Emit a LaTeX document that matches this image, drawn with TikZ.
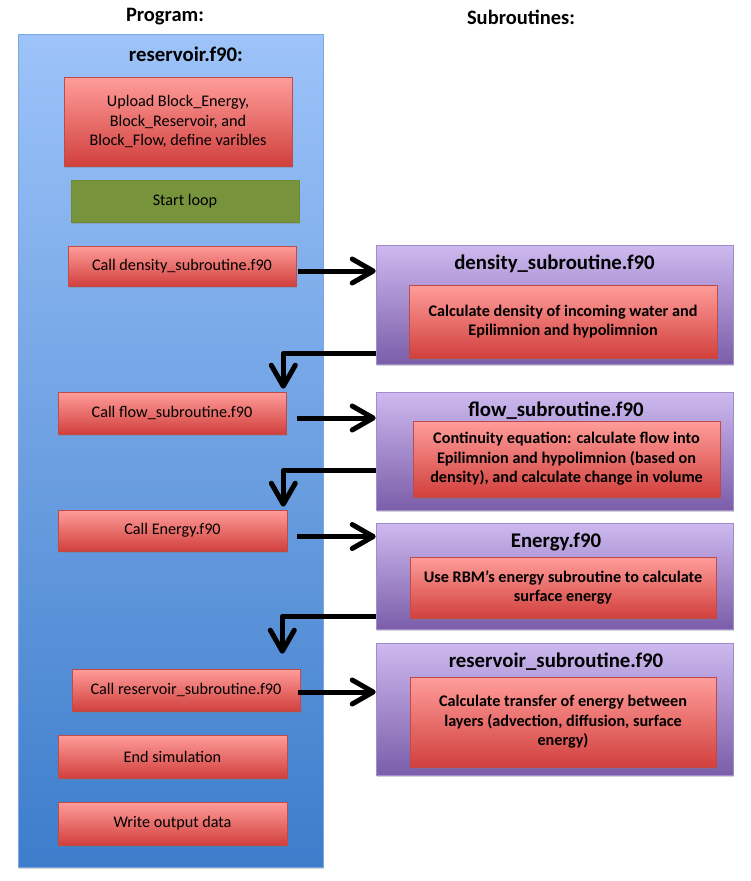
\documentclass[tikz,border=0pt]{standalone}
\usepackage{fontspec}
\setmainfont{Carlito}
\usetikzlibrary{shadows,arrows.meta}
\definecolor{redtop}{HTML}{FF9D9A}
\definecolor{redbot}{HTML}{D1403D}
\definecolor{redline}{HTML}{BE4B48}
\definecolor{purtop}{HTML}{CDB9EF}
\definecolor{purbot}{HTML}{7B5DA9}
\definecolor{purline}{HTML}{A08DCD}
\definecolor{bluetop}{HTML}{9DC3F9}
\definecolor{bluebot}{HTML}{3D7DCB}
\definecolor{blueline}{HTML}{7CA6E0}
\definecolor{greenfill}{HTML}{77933C}
\definecolor{greenline}{HTML}{6E8A37}
\tikzset{
  shad/.style={drop shadow={opacity=0.35,shadow xshift=1pt,shadow yshift=-2pt}},
  redbox/.style={draw=redline,line width=0.6pt,top color=redtop,bottom color=redbot,
     shad,align=center,inner sep=0pt,font=\fontsize{16.2}{19.5}\selectfont,text=black},
  redboxb/.style={redbox,font=\fontsize{16.2}{19.5}\selectfont\bfseries},
  greenbox/.style={draw=greenline,line width=0.6pt,fill=greenfill,shad,
     inner sep=0pt,font=\fontsize{16.2}{19.5}\selectfont},
  purbox/.style={draw=purline,line width=0.6pt,top color=purtop,bottom color=purbot,
     shad,inner sep=0pt},
  bluebox/.style={draw=blueline,line width=0.6pt,top color=bluetop,bottom color=bluebot,
     shad,inner sep=0pt},
  heading/.style={font=\fontsize{20.5}{24}\selectfont\bfseries},
  title/.style={font=\fontsize{20.8}{24}\selectfont\bfseries},
  conn/.style={line width=5pt,black,line join=round,
     -{Straight Barb[round,length=21pt,width=24pt,line width=5pt]}},
}
\begin{document}
\begin{tikzpicture}[x=1pt,y=-1pt]
\useasboundingbox (0,0) rectangle (750,881);

\node[heading] (hprog) at (165,17) {Program:};
\node[heading] (hsub) at (521,17) {Subroutines:};

\node[bluebox,minimum width=305,minimum height=833] (main) at (170.5,450.5) {};
\node[title] (mtitle) at (186,54) {reservoir.f90:};

\node[redbox,minimum width=228,minimum height=89] (upload) at (178,121.5)
  {Upload Block\_Energy,\\Block\_Reservoir, and\\Block\_Flow, define varibles};
\node[greenbox,minimum width=228,minimum height=42] (loop) at (185,201) {Start loop};
\node[redbox,minimum width=228,minimum height=40] (calldens) at (182,266) {Call density\_subroutine.f90};
\node[redbox,minimum width=228,minimum height=42] (callflow) at (172,413) {Call flow\_subroutine.f90};
\node[redbox,minimum width=229,minimum height=41] (callen) at (172.5,530.5) {Call Energy.f90};
\node[redbox,minimum width=228,minimum height=42] (callres) at (186,690) {Call reservoir\_subroutine.f90};
\node[redbox,minimum width=229,minimum height=43] (endsim) at (172.5,756.5) {End simulation};
\node[redbox,minimum width=229,minimum height=43] (write) at (172.5,823.5) {Write output data};

% subroutine boxes
\node[purbox,minimum width=357,minimum height=119] (dens) at (554.5,304.5) {};
\node[title] (denst) at (554.5,264) {density\_subroutine.f90};
\node[redboxb,minimum width=308,minimum height=73] (densin) at (563,321.5)
  {Calculate density of incoming water and\\Epilimnion and hypolimnion};

\node[purbox,minimum width=357,minimum height=118] (flow) at (554.5,451) {};
\node[title] (flowt) at (556,411) {flow\_subroutine.f90};
\node[redboxb,minimum width=307,minimum height=76] (flowin) at (566.5,459)
  {Continuity equation: calculate flow into\\Epilimnion and hypolimnion (based on\\density), and calculate change in volume};

\node[purbox,minimum width=357,minimum height=106] (en) at (554.5,576) {};
\node[title] (ent) at (556,542) {Energy.f90};
\node[redboxb,minimum width=306,minimum height=61] (enin) at (563,587.5)
  {Use RBM’s energy subroutine to calculate\\surface energy};

\node[purbox,minimum width=357,minimum height=132] (res) at (554.5,709) {};
\node[title] (rest) at (556,662) {reservoir\_subroutine.f90};
\node[redboxb,minimum width=306,minimum height=90] (resin) at (563,722)
  {Calculate transfer of energy between\\layers (advection, diffusion, surface\\energy)};

% connectors
\draw[conn] ([xshift=2pt,yshift=-5pt]calldens.east) -- ([yshift=-5pt]calldens.east -| dens.west);
\draw[conn] ([yshift=11pt]dens.south west) -| ([xshift=-3pt,yshift=3pt]callflow.north east);
\draw[conn] ([xshift=11pt,yshift=-5pt]callflow.east) -- ([yshift=-5pt]callflow.east -| flow.west);
\draw[conn] ([yshift=40pt]flow.south west) -| ([xshift=-4pt,yshift=3pt]callen.north east);
\draw[conn] ([xshift=10pt,yshift=-6pt]callen.east) -- ([yshift=-6pt]callen.east -| en.west);
\coordinate (c6) at ([xshift=-18pt,yshift=15pt]callres.north east);
\draw[conn] ([yshift=13pt]en.south west) -| (c6);
\draw[conn] ([xshift=-2pt,yshift=-2pt]callres.east) -- ([yshift=-2pt]callres.east -| res.west);
\end{tikzpicture}
\end{document}
